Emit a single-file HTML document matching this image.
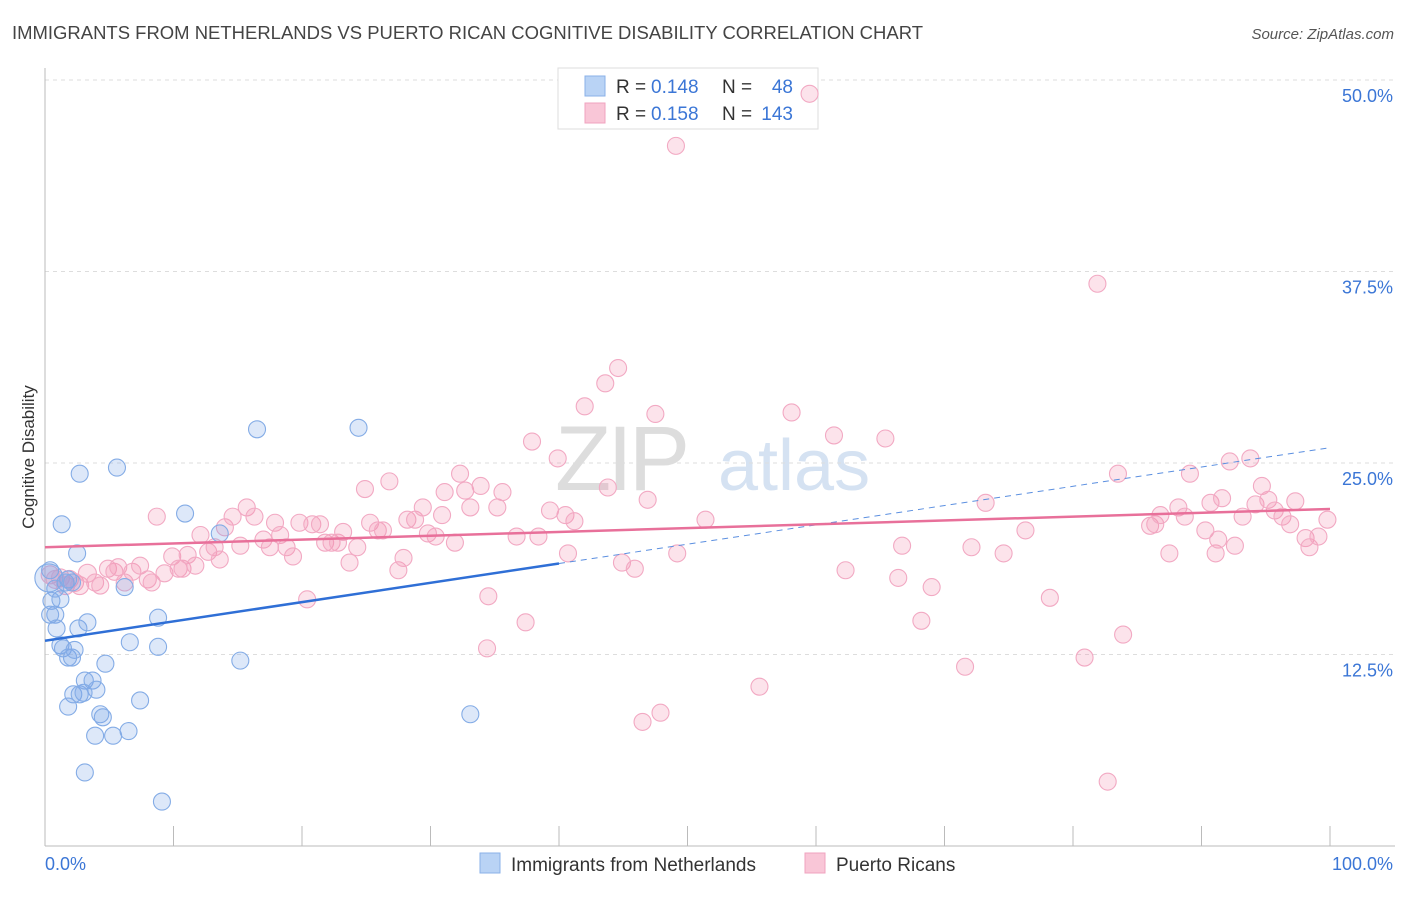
<!DOCTYPE html>
<html><head><meta charset="utf-8"><style>
body{margin:0;background:#fff;font-family:"Liberation Sans",sans-serif;}
svg text{font-family:"Liberation Sans",sans-serif;}
</style></head><body>
<svg id="chart" width="1406" height="892" xmlns="http://www.w3.org/2000/svg">
<text x="12" y="39" font-size="18" fill="#444" textLength="911" lengthAdjust="spacingAndGlyphs">IMMIGRANTS FROM NETHERLANDS VS PUERTO RICAN COGNITIVE DISABILITY CORRELATION CHART</text>
<text x="1394" y="39" font-size="15" fill="#555" font-style="italic" text-anchor="end">Source: ZipAtlas.com</text>
<text transform="translate(34,457) rotate(-90)" font-size="17" fill="#333" text-anchor="middle">Cognitive Disability</text>
<g><text x="555" y="490" font-size="92" fill="#ddd" font-family="Liberation Serif" letter-spacing="-4">ZIP</text><text x="718" y="490" font-size="72" fill="#d5e2f2">atlas</text></g>
<g id="grid"></g>
<g>
<rect x="558" y="68" width="260" height="61" fill="#fff" stroke="#ddd"/>
<rect x="585" y="76" width="20" height="20" fill="#b9d3f5" stroke="#8ab0e8"/>
<rect x="585" y="103" width="20" height="20" fill="#f9c6d7" stroke="#f0a3bf"/>
<text x="616" y="93" font-size="19" fill="#333">R =</text><text x="651" y="93" font-size="19" fill="#3b76d6">0.148</text>
<text x="722" y="93" font-size="19" fill="#333">N =</text><text x="793" y="93" font-size="19" fill="#3b76d6" text-anchor="end">48</text>
<text x="616" y="120" font-size="19" fill="#333">R =</text><text x="651" y="120" font-size="19" fill="#3b76d6">0.158</text>
<text x="722" y="120" font-size="19" fill="#333">N =</text><text x="793" y="120" font-size="19" fill="#3b76d6" text-anchor="end">143</text>
</g>
<g id="pts"></g><g id="trend"></g>
<g>
<rect x="480" y="853" width="20" height="20" fill="#b9d3f5" stroke="#8ab0e8"/>
<text x="511" y="871" font-size="19" fill="#333">Immigrants from Netherlands</text>
<rect x="805" y="853" width="20" height="20" fill="#f9c6d7" stroke="#f0a3bf"/>
<text x="836" y="871" font-size="19" fill="#333">Puerto Ricans</text>
</g>
</svg>
<script>
const yTicks=[12.5,25.0,37.5,50.0];
const xTickLabels=["0.0%","100.0%"];
const blueX=[0.4,0.5,0.8,0.4,0.9,1.2,1.3,1.6,1.8,2.1,1.2,1.4,1.8,2.1,2.3,2.6,3.3,2.5,2.7,5.6,2.2,2.7,1.8,3.1,3.7,4.0,3.0,4.7,4.3,4.5,3.9,5.3,6.5,7.4,6.6,8.8,8.8,6.2,10.9,13.6,15.2,16.5,24.4,33.1,3.1,9.1,0.8,0.3];
const blueY=[18.0,16.0,15.1,15.1,14.2,16.1,21.0,17.2,17.4,17.2,13.1,12.9,12.3,12.3,12.8,14.2,14.6,19.1,24.3,24.7,9.9,9.9,9.1,10.8,10.8,10.2,10.0,11.9,8.6,8.4,7.2,7.2,7.5,9.5,13.3,14.9,13.0,16.9,21.7,20.4,12.1,27.2,27.3,8.6,4.8,2.9,16.8,17.5];
const pinkX=[0.4,0.8,1.2,1.6,1.9,2.3,2.7,3.3,3.9,4.3,4.9,5.4,5.7,6.2,6.8,7.4,8.0,8.3,8.7,9.3,9.9,10.4,10.7,11.1,11.7,12.1,12.7,13.2,13.6,14.0,14.6,15.2,15.7,16.3,17.0,17.5,17.9,18.3,18.8,19.3,19.8,20.4,20.8,21.4,21.8,22.3,22.8,23.2,23.7,24.3,24.9,25.3,25.9,26.3,26.8,27.5,27.9,28.2,28.8,29.4,29.8,30.4,30.9,31.1,31.9,32.3,32.7,33.1,33.9,34.5,34.4,35.2,35.6,36.7,37.4,37.9,38.4,39.3,39.9,40.5,40.7,41.2,42.0,43.6,43.8,44.6,44.9,45.9,46.5,46.9,47.5,47.9,49.2,49.1,51.4,55.6,58.1,59.5,61.4,62.3,65.4,66.7,66.4,68.2,69.0,71.6,72.1,73.2,74.6,76.3,78.2,80.9,81.9,82.7,83.5,83.9,86.0,86.4,86.8,87.5,88.2,88.7,89.1,90.3,90.7,91.1,91.3,91.6,92.6,93.2,93.8,94.2,94.7,95.2,95.7,96.3,96.9,97.3,98.1,98.4,99.1,99.8,92.2];
const pinkY=[17.7,17.4,17.5,17.0,17.4,17.2,17.0,17.8,17.2,17.0,18.1,17.9,18.2,17.2,17.9,18.3,17.4,17.2,21.5,17.8,18.9,18.1,18.1,19.0,18.3,20.3,19.2,19.5,18.7,20.8,21.5,19.6,22.1,21.5,20.0,19.5,21.1,20.3,19.5,18.9,21.1,16.1,21.0,21.0,19.8,19.8,19.8,20.5,18.5,19.5,23.3,21.1,20.6,20.6,23.8,18.0,18.8,21.3,21.3,22.1,20.4,20.2,21.6,23.1,19.8,24.3,23.2,22.1,23.5,16.3,12.9,22.1,23.1,20.2,14.6,26.4,20.2,21.9,25.3,21.6,19.1,21.2,28.7,30.2,23.4,31.2,18.5,18.1,8.1,22.6,28.2,8.7,19.1,45.7,21.3,10.4,28.3,49.1,26.8,18.0,26.6,19.6,17.5,14.7,16.9,11.7,19.5,22.4,19.1,20.6,16.2,12.3,36.7,4.2,24.3,13.8,20.9,21.0,21.6,19.1,22.1,21.5,24.3,20.6,22.4,19.1,20.0,22.7,19.6,21.5,25.3,22.3,23.5,22.6,21.9,21.5,21.0,22.5,20.1,19.5,20.2,21.3,25.1];
const blueTrend=[13.4,26.0], blueSolidEnd=40;
const pinkTrend=[19.5,22.0];
const X0=45,X1=1330,Y0=846,YPER=15.32;
const sx=v=>X0+(X1-X0)*v/100, sy=v=>Y0-v*YPER;
const NS="http://www.w3.org/2000/svg";
function mk(tag,attrs,parent){const e=document.createElementNS(NS,tag);for(const k in attrs)e.setAttribute(k,attrs[k]);parent.appendChild(e);return e;}
const grid=document.getElementById('grid');
yTicks.forEach(t=>{
 const l=mk('line',{x1:X0,x2:1395,y1:sy(t),y2:sy(t),stroke:'#ddd','stroke-dasharray':'4,4'},grid);
 
 
 const tx=mk('text',{x:1393,y:sy(t)+22,'font-size':18,fill:'#3b76d6','text-anchor':'end'},grid);
 tx.textContent=t.toFixed(1)+'%';
 
 
});
mk('line',{x1:X0,x2:X0,y1:68,y2:Y0,stroke:'#bbb'},grid);
mk('line',{x1:X0,x2:1395,y1:Y0,y2:Y0,stroke:'#bbb'},grid);
for(let i=0;i<=10;i++){const x=sx(i*10);const t=mk('line',{x1:x,x2:x,y1:826,y2:Y0,stroke:'#bbb'},grid);
 
 }
[[0,45,'start'],[1,1393,'end']].forEach(([i,x,a])=>{const t=mk('text',{x:x,y:870,'font-size':18,fill:'#3b76d6','text-anchor':a},grid);t.textContent=xTickLabels[i];
 
 });
const pts=document.getElementById('pts');
pinkX.forEach((v,i)=>{const c=mk('circle',{cx:sx(v),cy:sy(pinkY[i]),r:i<8?9:8.5,fill:'rgba(244,143,177,0.25)',stroke:'#f2a9c3','stroke-width':1.1},pts);
 
 });
blueX.forEach((v,i)=>{const c=mk('circle',{cx:sx(v),cy:sy(blueY[i]),r:i==blueX.length-1?14:8.5,fill:'rgba(120,165,230,0.25)',stroke:'#84ace6','stroke-width':1.1},pts);
 
 });
const tr=document.getElementById('trend');
const by=x=>blueTrend[0]+(blueTrend[1]-blueTrend[0])*x/100;
let l1=mk('line',{x1:sx(0),y1:sy(by(0)),x2:sx(blueSolidEnd),y2:sy(by(blueSolidEnd)),stroke:'#2f6fd6','stroke-width':2.5},tr);


let l2=mk('line',{x1:sx(blueSolidEnd),y1:sy(by(blueSolidEnd)),x2:sx(100),y2:sy(by(100)),stroke:'#5b8fe0','stroke-width':1,'stroke-dasharray':'6,5'},tr);


let l3=mk('line',{x1:sx(0),y1:sy(pinkTrend[0]),x2:sx(100),y2:sy(pinkTrend[1]),stroke:'#e8709a','stroke-width':2.5},tr);


</script>
</body></html>
